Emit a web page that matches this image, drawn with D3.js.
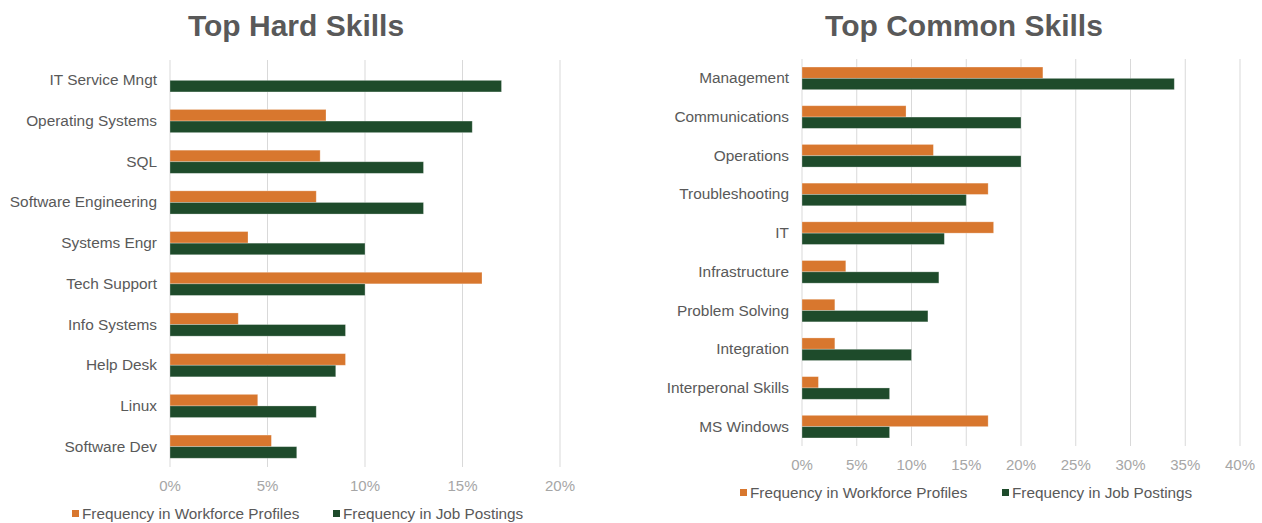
<!DOCTYPE html>
<html>
<head>
<meta charset="utf-8">
<script src="https://cdn.jsdelivr.net/npm/d3@7"></script>
<style>
  body { margin: 0; background: #fff; }
  svg { font-family: "Liberation Sans", Arial, sans-serif; }
</style>
</head>
<body>
<div id="chart"></div>
<script>
// Left chart data
const hardSkills = ["IT Service Mngt", "Operating Systems", "SQL", "Software Engineering", "Systems Engr",
    "Tech Support", "Info Systems", "Help Desk", "Linux", "Software Dev"];
const hardWorkforce = [0, 8, 7.7, 7.5, 4, 16, 3.5, 9, 4.5, 5.2];
const hardJobs = [17, 15.5, 13, 13, 10, 10, 9, 8.5, 7.5, 6.5];
const hardTicks = [0, 5, 10, 15, 20];

// Right chart data
const commonSkills = ["Management", "Communications", "Operations", "Troubleshooting", "IT",
    "Infrastructure", "Problem Solving", "Integration", "Interperonal Skills", "MS Windows"];
const commonWorkforce = [22, 9.5, 12, 17, 17.5, 4, 3, 3, 1.5, 17];
const commonJobs = [34, 20, 20, 15, 13, 12.5, 11.5, 10, 8, 8];
const commonTicks = [0, 5, 10, 15, 20, 25, 30, 35, 40];

const seriesNames = ["Frequency in Workforce Profiles", "Frequency in Job Postings"];
const colors = ["#D8772E", "#1E4B2B"];

const svg = d3.select("#chart")
    .append("svg")
    .attr("width", 1262)
    .attr("height", 523);

function drawChart(opt) {
    const g = svg.append("g");

    // title
    g.append("text")
        .attr("x", opt.titleX)
        .attr("y", 36)
        .attr("text-anchor", "middle")
        .attr("font-size", "30px")
        .attr("font-weight", "bold")
        .attr("fill", "#595959")
        .text(opt.title);

    const x = d3.scaleLinear()
        .domain([0, d3.max(opt.ticks)])
        .range([opt.left, opt.right]);

    const y = d3.scaleBand()
        .domain(opt.cats)
        .range([opt.top, opt.bottom])
        .paddingInner(opt.pad)
        .paddingOuter(opt.pad / 2);

    const bh = y.bandwidth() / 2;

    // gridlines
    g.append("g")
        .selectAll("line")
        .data(opt.ticks)
        .join("line")
        .attr("x1", d => x(d)).attr("x2", d => x(d))
        .attr("y1", opt.top).attr("y2", opt.bottom)
        .attr("stroke", "#d9d9d9")
        .attr("stroke-width", 1);

    // tick labels
    g.append("g")
        .selectAll("text")
        .data(opt.ticks)
        .join("text")
        .attr("x", d => x(d))
        .attr("y", opt.tickY)
        .attr("text-anchor", "middle")
        .attr("font-size", "15px")
        .attr("fill", "#a6a6a6")
        .text(d => d + "%");

    // category labels
    g.append("g")
        .selectAll("text")
        .data(opt.cats)
        .join("text")
        .attr("x", opt.left - 13)
        .attr("y", d => y(d) + y.bandwidth() / 2 + 5)
        .attr("text-anchor", "end")
        .attr("font-size", "15.4px")
        .attr("fill", "#595959")
        .text(d => d);

    // bars
    [opt.workforce, opt.jobs].forEach((vals, si) => {
        g.append("g")
            .selectAll("rect")
            .data(opt.cats)
            .join("rect")
            .attr("x", x(0))
            .attr("y", d => y(d) + si * bh)
            .attr("width", (d, i) => x(vals[i]) - x(0))
            .attr("height", bh)
            .attr("fill", colors[si])
            .attr("stroke", "#ffffff")
            .attr("stroke-opacity", 0.35)
            .attr("stroke-width", 0.8);
    });

    // legend
    const lg = g.append("g");
    seriesNames.forEach((name, i) => {
        lg.append("rect")
            .attr("x", opt.legendX[i])
            .attr("y", opt.legendY - 4)
            .attr("width", 7)
            .attr("height", 7)
            .attr("fill", colors[i]);
        lg.append("text")
            .attr("x", opt.legendX[i] + 10)
            .attr("y", opt.legendY + 5)
            .attr("font-size", "15.3px")
            .attr("fill", "#595959")
            .text(name);
    });
}

drawChart({
    title: "Top Hard Skills", titleX: 296,
    cats: hardSkills, workforce: hardWorkforce, jobs: hardJobs, ticks: hardTicks,
    left: 170, right: 560, top: 60, bottom: 467, pad: 0.43,
    tickY: 491, legendX: [72, 333], legendY: 514
});

drawChart({
    title: "Top Common Skills", titleX: 964,
    cats: commonSkills, workforce: commonWorkforce, jobs: commonJobs, ticks: commonTicks,
    left: 802, right: 1240, top: 59, bottom: 446, pad: 0.415,
    tickY: 470, legendX: [740, 1002], legendY: 493
});
</script>
</body>
</html>
